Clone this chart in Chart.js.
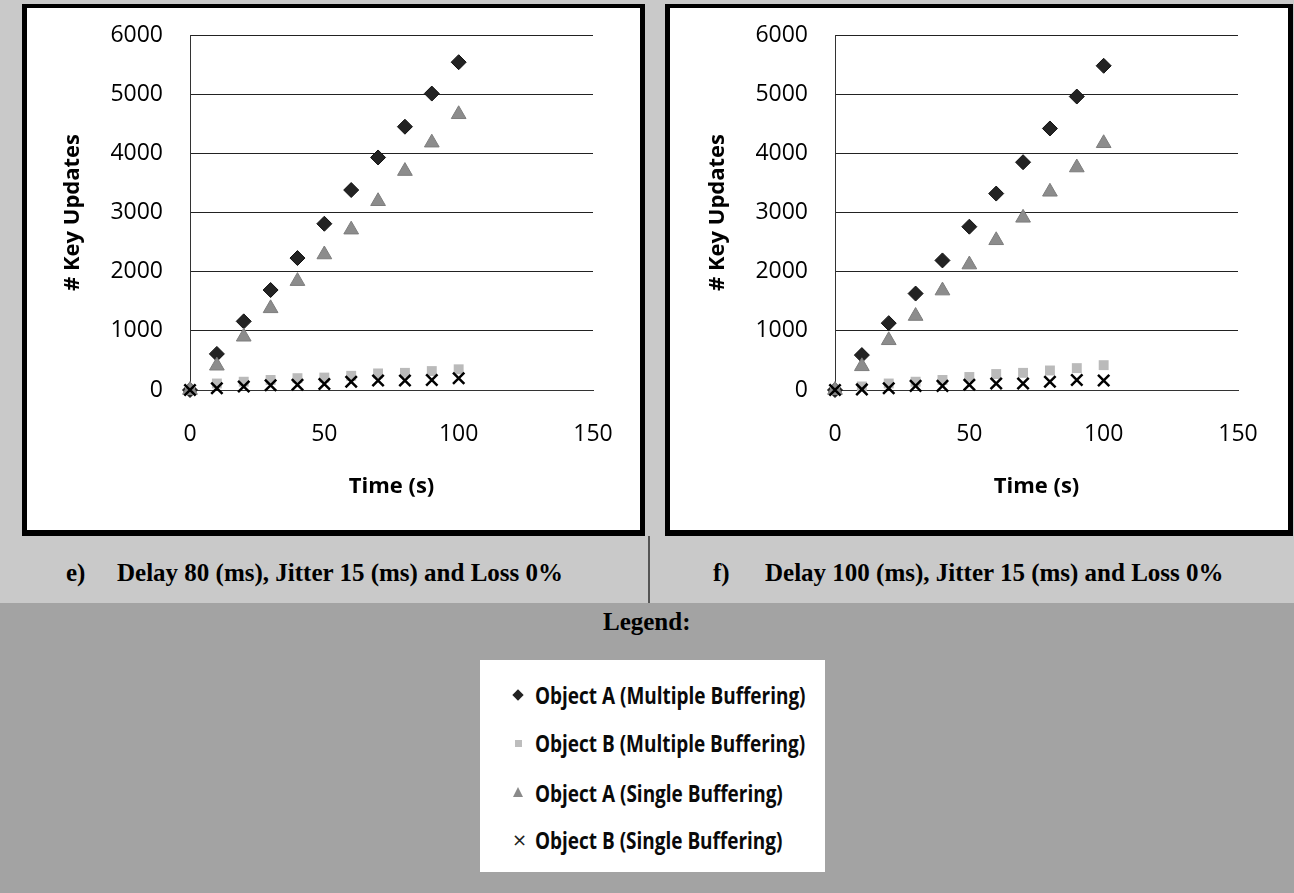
<!DOCTYPE html>
<html>
<head>
<meta charset="utf-8">
<script src="https://cdn.jsdelivr.net/npm/chart.js@4.4.1/dist/chart.umd.min.js"></script>
<style>
  html, body { margin: 0; padding: 0; }
  body { width: 1294px; height: 893px; position: relative; overflow: hidden; background: #c9c9c9; font-family: "Open Sans", sans-serif; }
  #lower { position: absolute; left: 0; top: 603px; width: 1294px; height: 290px; background: #a3a3a3; }
  .box { position: absolute; top: 4px; height: 532px; box-sizing: border-box; border: 5px solid #000; border-top-width: 4px; border-bottom-width: 6px; background: #fff; }
  .box canvas { display: block; }
  #boxE { left: 22px; width: 623px; }
  #boxF { left: 665px; width: 628px; }
  .cap { position: absolute; font-family: "Liberation Serif", serif; font-weight: bold; font-size: 25px; line-height: 26px; color: #000; white-space: nowrap; }
  #sep { position: absolute; left: 648px; top: 536px; width: 2px; height: 67px; background: #555; }
  #legTitle { position: absolute; left: 603px; top: 609px; font-family: "Liberation Serif", serif; font-weight: bold; font-size: 25px; line-height: 26px; color: #000; }
  #legBox { position: absolute; left: 480px; top: 660px; width: 345px; height: 212px; background: #fff; }
  .item { position: absolute; left: 0; height: 30px; width: 345px; }
  .item .txt { position: absolute; left: 55px; top: 0; font-family: "Open Sans", sans-serif; font-weight: bold; font-size: 24px; line-height: 30px; color: #0a0a0a; white-space: nowrap; transform-origin: 0 50%; transform: scaleX(0.79); }
  .mk { position: absolute; }
  .mk.dia { left: 34px; top: 11px; width: 8px; height: 8px; background: #222; transform: rotate(45deg); }
  .mk.sq { left: 35px; top: 12px; width: 7px; height: 7px; background: #bdbdbd; }
  .mk.tri { left: 33px; top: 9px; width: 0; height: 0; border-left: 5px solid transparent; border-right: 5px solid transparent; border-bottom: 10px solid #8a8a8a; }
  .mk.x { left: 32px; top: 0; font-family: "DejaVu Sans", sans-serif; font-size: 18px; line-height: 30px; color: #222; }
</style>
</head>
<body>
<div id="lower"></div>

<div class="box" id="boxE"><canvas id="chartE" width="613" height="522"></canvas></div>
<div class="box" id="boxF"><canvas id="chartF" width="618" height="522"></canvas></div>

<div class="cap" style="left:66px; top:560px;">e)</div>
<div class="cap" style="left:117px; top:560px;">Delay 80 (ms), Jitter 15 (ms) and Loss 0%</div>
<div id="sep"></div>
<div class="cap" style="left:713px; top:560px;">f)</div>
<div class="cap" style="left:765px; top:560px;">Delay 100 (ms), Jitter 15 (ms) and Loss 0%</div>

<div id="legTitle">Legend:</div>
<div id="legBox"></div>

<script>
// Sample times (s)
const timeSec = [0, 10, 20, 30, 40, 50, 60, 70, 80, 90, 100];

// Axis ticks
const xTicks = [0, 50, 100, 150];
const yTicks = [0, 1000, 2000, 3000, 4000, 5000, 6000];

// Series names
const seriesNames = [
  'Object A (Multiple Buffering)',
  'Object B (Multiple Buffering)',
  'Object A (Single Buffering)',
  'Object B (Single Buffering)'
];

// e) Delay 80 ms, Jitter 15 ms, Loss 0%
const eObjAMulti  = [0, 610, 1160, 1690, 2230, 2810, 3380, 3930, 4450, 5010, 5540];
const eObjBMulti  = [0, 110, 140, 170, 200, 210, 240, 280, 290, 320, 350];
const eObjASingle = [0, 410, 900, 1380, 1840, 2290, 2710, 3190, 3700, 4180, 4660];
const eObjBSingle = [0, 30, 60, 80, 90, 100, 140, 160, 160, 170, 200];

// f) Delay 100 ms, Jitter 15 ms, Loss 0%
const fObjAMulti  = [0, 590, 1130, 1630, 2190, 2760, 3320, 3850, 4420, 4960, 5480];
const fObjBMulti  = [0, 60, 110, 140, 170, 220, 270, 290, 330, 370, 420];
const fObjASingle = [0, 400, 840, 1250, 1680, 2120, 2530, 2910, 3350, 3760, 4170];
const fObjBSingle = [0, 10, 30, 70, 70, 90, 110, 110, 140, 170, 160];

const markerStyles = [
  { pointStyle: 'rectRot',  radius: 7.5, backgroundColor: '#232323', borderColor: '#111', borderWidth: 1 },
  { pointStyle: 'rect',     radius: 7,   backgroundColor: '#bababa', borderColor: '#b3b3b3', borderWidth: 0 },
  { pointStyle: 'triangle', radius: 8.5, backgroundColor: '#8c8c8c', borderColor: '#7d7d7d', borderWidth: 1 },
  { pointStyle: 'crossRot', radius: 8,   backgroundColor: '#000',    borderColor: '#000',    borderWidth: 2.5 }
];

const tickFont  = { family: 'Open Sans', size: 23 };
const titleFont = { family: 'Open Sans', size: 22, weight: 'bold' };
const plainNumber = v => String(v);

function buildChart(canvasId, seriesList, geom) {
  const datasets = seriesList.map((vals, k) => Object.assign({
    label: seriesNames[k],
    data: timeSec.map((t, i) => ({ x: t, y: vals[i] })),
    order: 4 - k,
    clip: false,
    hoverRadius: markerStyles[k].radius
  }, markerStyles[k]));

  return new Chart(document.getElementById(canvasId), {
    type: 'scatter',
    data: { datasets },
    options: {
      responsive: false,
      animation: false,
      events: [],
      layout: { padding: { left: 0, top: geom.top, right: geom.right, bottom: 0 } },
      plugins: { legend: { display: false }, tooltip: { enabled: false } },
      scales: {
        x: {
          type: 'linear',
          min: xTicks[0], max: xTicks[xTicks.length - 1],
          afterBuildTicks: s => { s.ticks = xTicks.map(v => ({ value: v })); },
          ticks: { padding: 31, color: '#000', font: tickFont, callback: plainNumber },
          grid: { display: false, drawTicks: false },
          border: { display: true, color: '#333', width: 1 },
          title: { display: true, text: 'Time (s)', color: '#000', font: titleFont, padding: { top: 0, bottom: 30 } },
          afterFit: s => { s.height = geom.xh; s.paddingLeft = 0; s.paddingRight = 0; }
        },
        y: {
          type: 'linear',
          min: yTicks[0], max: yTicks[yTicks.length - 1],
          afterBuildTicks: s => { s.ticks = yTicks.map(v => ({ value: v })); },
          ticks: { padding: 27, color: '#000', font: tickFont, callback: plainNumber },
          grid: { color: '#222', lineWidth: 1, drawTicks: false },
          border: { display: true, color: '#333', width: 1 },
          title: { display: true, text: '# Key Updates', color: '#000', font: titleFont, padding: { top: geom.titlePad, bottom: 0 } },
          afterFit: s => { s.width = geom.yw; s.paddingTop = 0; s.paddingBottom = 0; }
        }
      }
    }
  });
}

buildChart('chartE', [eObjAMulti, eObjBMulti, eObjASingle, eObjBSingle],
  { top: 27, right: 47, xh: 140, yw: 163, titlePad: 33 });
buildChart('chartF', [fObjAMulti, fObjBMulti, fObjASingle, fObjBSingle],
  { top: 27, right: 50, xh: 140, yw: 165, titlePad: 35 });

// Legend entries
const legendMarks = ['dia', 'sq', 'tri', 'x'];
const legendRowTops = [20, 68, 118, 165];
const legBox = document.getElementById('legBox');
seriesNames.forEach((name, k) => {
  const row = document.createElement('div');
  row.className = 'item';
  row.style.top = legendRowTops[k] + 'px';
  const mk = document.createElement('span');
  mk.className = 'mk ' + legendMarks[k];
  if (legendMarks[k] === 'x') mk.textContent = '\u00d7';
  const txt = document.createElement('span');
  txt.className = 'txt';
  txt.textContent = name;
  row.appendChild(mk);
  row.appendChild(txt);
  legBox.appendChild(row);
});
</script>
</body>
</html>
